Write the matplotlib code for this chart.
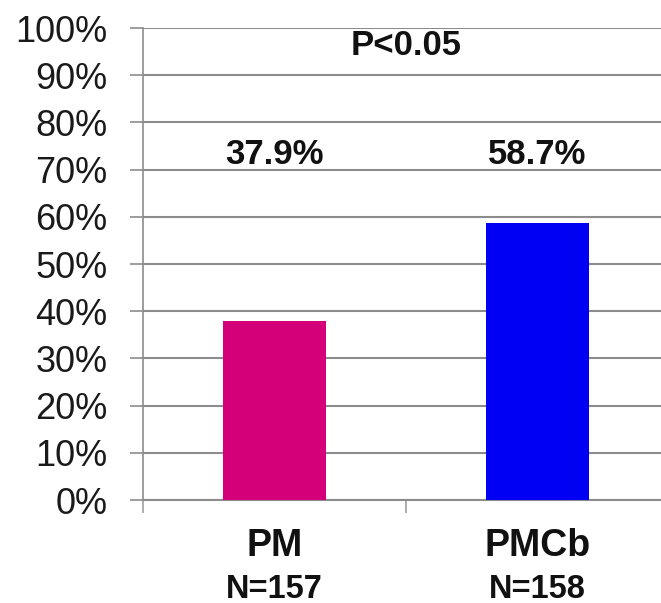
import matplotlib
matplotlib.use("Agg")
import matplotlib.pyplot as plt
from matplotlib.ticker import FixedLocator

# Datos
grupos = ["PM", "PMCb"]
tamanos = ["N=157", "N=158"]
porcentajes = [37.9, 58.7]
colores = ["#D4007A", "#0000F2"]
etiquetas_y = [f"{v}%" for v in range(0, 101, 10)]

plt.rcParams["font.family"] = ["Liberation Sans", "DejaVu Sans"]

fig = plt.figure(figsize=(6.61, 6.03), dpi=100)
ax = fig.add_axes([143 / 661, 103 / 603, 526 / 661, 472 / 603])

x = list(range(len(grupos)))
ax.bar(x, porcentajes, width=0.39, color=colores, zorder=3)

ax.set_xlim(-0.5, 1.5)
ax.set_ylim(0, 100)
ax.set_yticks(range(0, 101, 10))
ax.set_yticklabels(etiquetas_y, fontsize=26, color="#1a1a1a")
ax.grid(axis="y", color="#8c8c8c", linewidth=1.5, zorder=0)
ax.tick_params(axis="y", direction="out", length=9.5, width=1.2,
               color="#8c8c8c", pad=16)

# marcas del eje de categorias entre los grupos
ax.set_xticks([])
ax.xaxis.set_minor_locator(FixedLocator([-0.5, 0.5, 1.5]))
ax.tick_params(axis="x", which="minor", direction="out", length=9.5,
               width=1.2, color="#a0a0a0")

for lado in ["top", "right"]:
    ax.spines[lado].set_visible(False)
ax.spines["left"].set_color("#8c8c8c")
ax.spines["left"].set_linewidth(1.2)
ax.spines["bottom"].set_color("#8c8c8c")
ax.spines["bottom"].set_linewidth(1.5)

# valores sobre las barras
for xi, v in zip(x, porcentajes):
    ax.text(xi, 73.1, f"{v}%", ha="center", va="center", fontsize=25,
            fontweight="bold", color="#111111")

ax.text(0.5, 96.2, "P<0.05", ha="center", va="center", fontsize=25,
        fontweight="bold", color="#111111")

# nombres de grupo y tamano de muestra
trans = ax.get_xaxis_transform()
for xi, g, n in zip(x, grupos, tamanos):
    ax.text(xi, -0.0975, g, transform=trans, ha="center", va="center",
            fontsize=27, fontweight="bold", color="#111111")
    ax.text(xi, -0.1886, n, transform=trans, ha="center", va="center",
            fontsize=23.5, fontweight="bold", color="#111111")

fig.savefig("out.png", dpi=100)
